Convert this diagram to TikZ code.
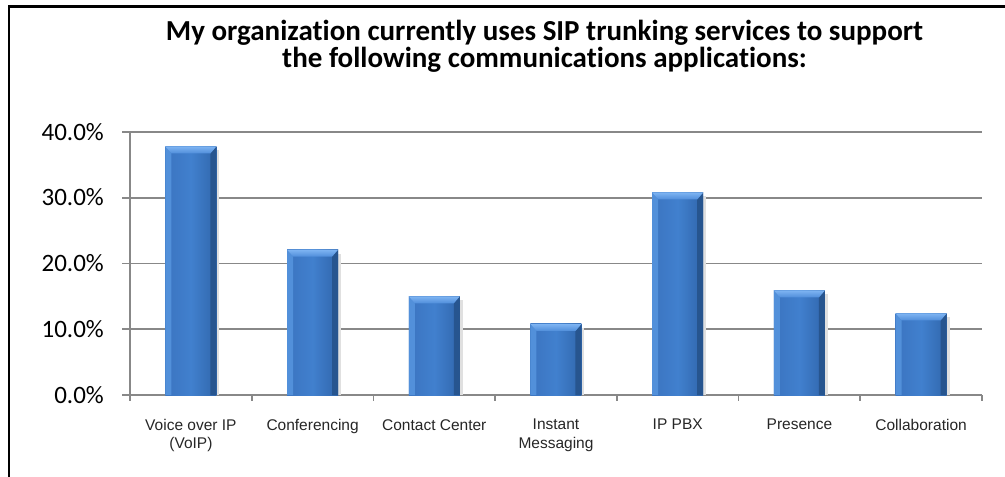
\documentclass[tikz,border=0pt]{standalone}
\usepackage{fontspec}
\setmainfont{Carlito}[Ligatures=NoCommon]
\newfontfamily\arialf{Liberation Sans}
\definecolor{gridc}{HTML}{888888}
\definecolor{barL}{HTML}{3B74C0}
\definecolor{barM}{HTML}{4180CE}
\definecolor{barR}{HTML}{3066AC}
\definecolor{bevTopA}{HTML}{7EB4F2}
\definecolor{bevTopB}{HTML}{4F8DDA}
\definecolor{bevL}{HTML}{5290DA}
\definecolor{bevR}{HTML}{27558F}
\begin{document}
\begin{tikzpicture}[x=1pt,y=-1pt,
  gridline/.style={draw=gridc,line width=1.6pt},
  ylab/.style={font=\fontsize{25}{28}\selectfont,anchor=base east,inner sep=0pt},
  catlab/.style={font=\arialf\fontsize{15.5}{18.5}\selectfont,align=center,anchor=north,inner sep=0pt,text=black!85},
  titlelab/.style={font=\fontsize{29}{27}\selectfont\bfseries,align=center,anchor=north,inner sep=0pt}]
\useasboundingbox (0,0) rectangle (1005,477);
% frame (open at right and bottom)
\draw[line width=2.6pt] (9,480) -- (9,6.3) -- (1010,6.3);
% title
\node[titlelab] (title) at (544.5,20) {My organization currently uses SIP trunking services to support\\the following communications applications:};
% gridlines
\foreach \v in {1,2,3,4}{
  \draw[gridline] (122,{395-65.75*\v}) -- (982,{395-65.75*\v});
}
% axes
\draw[gridline] (130,132.0) -- (130,395);
\draw[gridline] (122,395) -- (982,395);
\foreach \i in {0,...,7}{
  \draw[gridline] ({130+121.71*\i},395) -- ({130+121.71*\i},401);
}
% y labels
\node[ylab] (y0) at (104,403) {0.0\%};
\node[ylab] (y1) at (104,337.3) {10.0\%};
\node[ylab] (y2) at (104,271.5) {20.0\%};
\node[ylab] (y3) at (104,205.8) {30.0\%};
\node[ylab] (y4) at (104,140) {40.0\%};
% bars
\foreach \v [count=\i from 0] in {37.8,22.1,15.0,10.8,30.8,15.9,12.4}{
  \pgfmathsetmacro\bc{130+121.71*(\i+0.5)}
  \pgfmathsetmacro\bt{395-6.575*\v}
  \pgfmathsetmacro\xl{\bc-25.5}
  \pgfmathsetmacro\xr{\bc+25.5}
  \fill[black!12] (\xr,\bt+4) rectangle (\xr+3,395);
  \shade[left color=barL,right color=barR,middle color=barM] (\xl,\bt) rectangle (\xr,395);
  \fill[bevL] (\xl,\bt) -- (\xl+6,\bt+7) -- (\xl+6,395) -- (\xl,395) -- cycle;
  \fill[bevR] (\xr,\bt) -- (\xr-6,\bt+7) -- (\xr-6,395) -- (\xr,395) -- cycle;
  \shade[top color=bevTopA,bottom color=bevTopB] (\xl,\bt) -- (\xr,\bt) -- (\xr-6,\bt+7) -- (\xl+6,\bt+7) -- cycle;
}
% category labels
\node[catlab] (c1) at (190.9,419) {Voice over IP\\(VoIP)};
\node[catlab] (c2) at (312.6,419) {Conferencing};
\node[catlab] (c3) at (434.3,419) {Contact Center};
\node[catlab] (c4) at (556.0,419) {Instant\\Messaging};
\node[catlab] (c5) at (677.7,419) {IP PBX};
\node[catlab] (c6) at (799.4,419) {Presence};
\node[catlab] (c7) at (921.1,419) {Collaboration};
\end{tikzpicture}
\end{document}
